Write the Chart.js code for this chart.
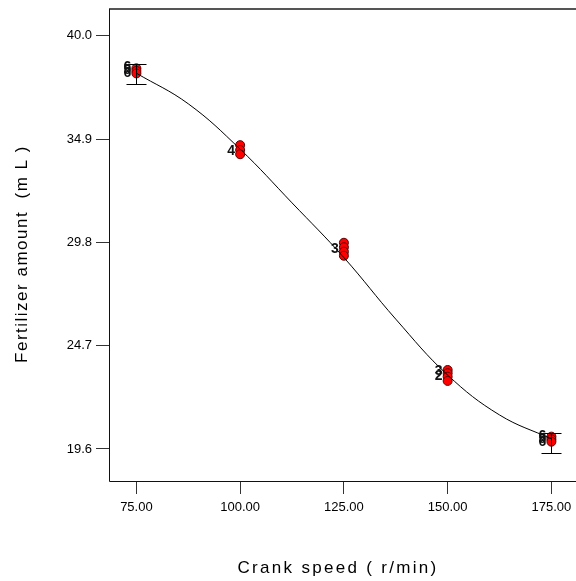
<!DOCTYPE html>
<html>
<head>
<meta charset="utf-8">
<script src="https://cdn.jsdelivr.net/npm/chart.js@4.4.0/dist/chart.umd.min.js"></script>
<style>
    html, body { margin: 0; padding: 0; background: #fff; }
</style>
</head>
<body>
<canvas id="chartFert" width="576" height="581"></canvas>
<script>
// design points (crank speed, fertilizer amount)
const pointX = [75, 75, 75, 100, 100, 100, 125, 125, 125, 125, 150, 150, 150, 150, 175, 175, 175];
const pointY = [38.39, 38.26, 38.14, 34.60, 34.36, 34.15, 29.78, 29.56, 29.34, 29.14, 23.50, 23.34, 23.17, 22.96, 20.21, 20.08, 19.96];

// replicate count tags next to the points
const tagX = [75, 75, 75, 100, 125, 150, 150, 175, 175, 175];
const tagY = [38.45, 38.3, 38.15, 34.3, 29.45, 23.45, 23.2, 20.25, 20.1, 19.95];
const tagText = ['6', '5', '6', '4', '3', '3', '2', '6', '5', '6'];

// fitted model curve
const curveX = [75, 87.5, 100, 112.5, 125, 137.5, 150, 162.5, 175];
const curveY = [38.15, 36.64, 34.40, 31.75, 29.05, 26.01, 23.25, 21.28, 20.10];

// LSD bars at the ends
const lsdX = [75, 175];
const lsdLow = [37.62, 19.40];
const lsdHigh = [38.60, 20.39];

const xTicks = [75, 100, 125, 150, 175];
const yTicks = [19.6, 24.7, 29.8, 34.9, 40.0];

const fontFamily = 'Arial, "Liberation Sans", sans-serif';

const extrasPlugin = {
    id: 'extras',
    afterDatasetsDraw(chart) {
        const ctx = chart.ctx;
        const xs = chart.scales.x;
        const ys = chart.scales.y;
        const area = chart.chartArea;

        // lsd bars
        ctx.save();
        ctx.strokeStyle = '#000';
        ctx.lineWidth = 1;
        lsdX.forEach((v, i) => {
            const px = Math.round(xs.getPixelForValue(v)) + 0.5;
            const top = Math.round(ys.getPixelForValue(lsdHigh[i])) + 0.5;
            const bot = Math.round(ys.getPixelForValue(lsdLow[i])) + 0.5;
            ctx.beginPath();
            ctx.moveTo(px, top); ctx.lineTo(px, bot);
            ctx.moveTo(px - 10, top); ctx.lineTo(px + 10, top);
            ctx.moveTo(px - 10, bot); ctx.lineTo(px + 10, bot);
            ctx.stroke();
        });
        ctx.restore();

        // tags
        ctx.save();
        ctx.fillStyle = '#111';
        ctx.font = 'bold 14px ' + fontFamily;
        ctx.textAlign = 'right';
        ctx.textBaseline = 'middle';
        tagX.forEach((v, i) => {
            ctx.fillText(tagText[i], xs.getPixelForValue(v) - 5, ys.getPixelForValue(tagY[i]));
        });
        ctx.restore();

        // frame: top, left, bottom (right edge is outside the picture)
        ctx.save();
        ctx.strokeStyle = '#555';
        ctx.lineWidth = 2;
        ctx.beginPath();
        ctx.moveTo(area.left, area.top); ctx.lineTo(chart.width, area.top);
        ctx.stroke();
        ctx.strokeStyle = '#111';
        ctx.lineWidth = 1;
        ctx.beginPath();
        ctx.moveTo(area.left + 0.5, area.top);
        ctx.lineTo(area.left + 0.5, area.bottom + 0.5);
        ctx.lineTo(chart.width, area.bottom + 0.5);
        ctx.stroke();
        ctx.restore();

        // axis titles
        ctx.save();
        ctx.fillStyle = '#000';
        ctx.font = '17px ' + fontFamily;
        ctx.textAlign = 'center';
        ctx.textBaseline = 'middle';
        ctx.letterSpacing = '2.3px';
        ctx.fillText('Crank speed ( r/min)', 338, 568);
        ctx.translate(22, 254);
        ctx.rotate(-Math.PI / 2);
        ctx.letterSpacing = '1.5px';
        ctx.fillText('Fertilizer amount  (m L )', 0, 0);
        ctx.restore();
    }
};

const ctx = document.getElementById('chartFert').getContext('2d');
const fertChart = new Chart(ctx, {
    type: 'scatter',
    data: {
        datasets: [
            {
                label: 'Model',
                type: 'line',
                data: curveX.map((x, i) => ({ x: x, y: curveY[i] })),
                borderColor: '#000',
                borderWidth: 1,
                pointRadius: 0,
                fill: false,
                tension: 0.4
            },
            {
                label: 'Design points',
                data: pointX.map((x, i) => ({ x: x, y: pointY[i] })),
                backgroundColor: '#ff0000',
                borderColor: '#5a0000',
                borderWidth: 1,
                pointRadius: 4.5
            }
        ]
    },
    options: {
        responsive: false,
        animation: false,
        layout: { padding: { top: 9, left: 0, right: 0, bottom: 0 } },
        plugins: {
            legend: { display: false },
            tooltip: { enabled: false }
        },
        scales: {
            x: {
                type: 'linear',
                min: 68.4,
                max: 179.6,
                afterBuildTicks: s => { s.ticks = xTicks.map(v => ({ value: v })); },
                afterFit: s => { s.height = 100; s.paddingLeft = 0; s.paddingRight = 0; },
                ticks: {
                    color: '#000',
                    font: { family: fontFamily, size: 13 },
                    padding: 6,
                    maxRotation: 0,
                    autoSkip: false,
                    callback: v => Number(v).toFixed(2)
                },
                grid: { drawOnChartArea: false, drawTicks: true, tickLength: 13, color: '#333' },
                border: { display: false }
            },
            y: {
                type: 'linear',
                min: 18.02,
                max: 41.32,
                afterBuildTicks: s => { s.ticks = yTicks.map(v => ({ value: v })); },
                afterFit: s => { s.width = 109; s.paddingTop = 0; s.paddingBottom = 0; },
                ticks: {
                    color: '#000',
                    font: { family: fontFamily, size: 13 },
                    padding: 4,
                    autoSkip: false,
                    callback: v => Number(v).toFixed(1)
                },
                grid: { drawOnChartArea: false, drawTicks: true, tickLength: 13, color: '#333' },
                border: { display: false }
            }
        }
    },
    plugins: [extrasPlugin]
});
</script>
</body>
</html>
